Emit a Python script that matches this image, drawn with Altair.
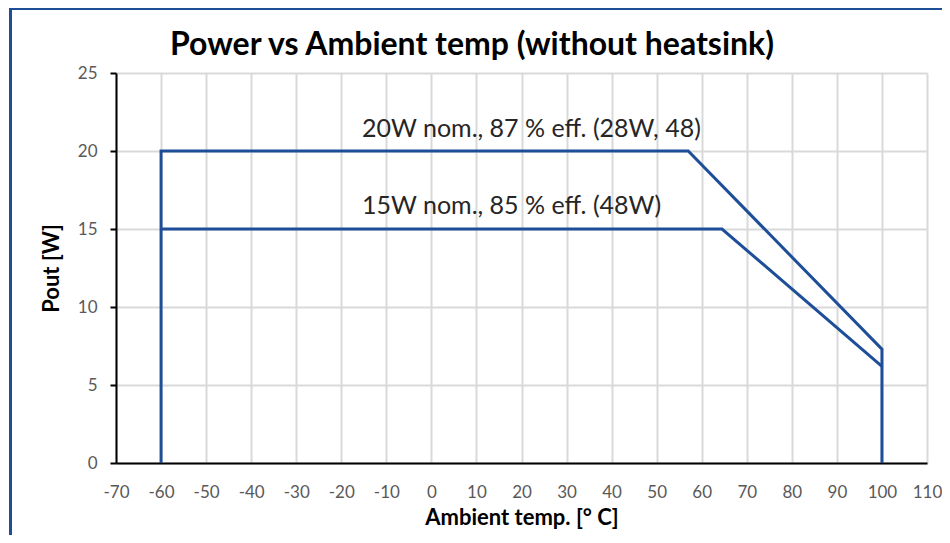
import altair as alt
import pandas as pd

# Series data
s1_x = [-60, -60, 57, 100, 100]
s1_y = [0, 20, 20, 7.3, 0]
s2_x = [-60, 64.5, 100]
s2_y = [15, 15, 6.2]

label_x = [-15.4, -15.4]
label_y = [20.9, 15.95]
label_text = ["20W nom., 87 % eff. (28W, 48)", "15W nom., 85 % eff. (48W)"]

title_text = ["Power vs Ambient temp (without heatsink)"]

x_ticks = list(range(-70, 111, 10))
y_ticks = [0, 5, 10, 15, 20, 25]

LINE = "#1F4E98"
FONT = "Lato"

rows = []
for i, (x, y) in enumerate(zip(s1_x, s1_y)):
    rows.append({"series": "20W", "x": x, "y": y, "o": i})
for i, (x, y) in enumerate(zip(s2_x, s2_y)):
    rows.append({"series": "15W", "x": x, "y": y, "o": i})
df = pd.DataFrame(rows)
lab = pd.DataFrame({"x": label_x, "y": label_y, "t": label_text})
ttl = pd.DataFrame({"t": title_text})

xs = alt.Scale(domain=[-70, 110], nice=False, zero=False)
ys = alt.Scale(domain=[0, 25], nice=False)

lines = alt.Chart(df).mark_line(color=LINE, strokeWidth=3, clip=False).encode(
    x=alt.X("x:Q", scale=xs, axis=alt.Axis(
        values=x_ticks, title="Ambient temp. [° C]", ticks=False, tickSize=0,
        labelExpr="toString(datum.value)", labelFlush=False,
        labelPadding=21, titlePadding=7, grid=True)),
    y=alt.Y("y:Q", scale=ys, axis=alt.Axis(
        values=y_ticks, title="Pout [W]", ticks=True, tickSize=6, labelFlush=False,
        labelPadding=13, titlePadding=14, grid=True)),
    detail="series:N",
    order="o:Q",
)

texts = alt.Chart(lab).mark_text(font=FONT, fontSize=25, color="#262626", align="left", baseline="alphabetic").encode(
    x=alt.X("x:Q", scale=xs),
    y=alt.Y("y:Q", scale=ys),
    text="t:N",
)

title = alt.Chart(ttl).mark_text(font=FONT, fontSize=32, fontWeight="bold", color="#000000",
                                  align="center", baseline="alphabetic").encode(
    x=alt.value(356), y=alt.value(-18), text="t:N",
)

frame = alt.Chart(ttl).mark_rect(filled=False, stroke=LINE, strokeWidth=3, clip=False).encode(
    x=alt.value(-105.5), x2=alt.value(950),
    y=alt.value(-64.5), y2=alt.value(560),
)

chart = alt.layer(lines, texts, title, frame).properties(
    width=811, height=390,
    autosize=alt.AutoSizeParams(type="none"),
    padding={"left": 108, "top": 65, "right": 15, "bottom": 72},
).configure_axis(
    labelFont=FONT, labelFontSize=17, labelColor="#595959",
    titleFont=FONT, titleFontSize=22, titleFontWeight="bold", titleColor="#000000",
    domainColor="#000000", domainWidth=2, tickColor="#000000", tickWidth=2,
    gridColor="#D9D9D9", gridWidth=2,
).configure_view(stroke=None)

chart.save("out.html", embed_options={"renderer": "svg", "actions": False})
